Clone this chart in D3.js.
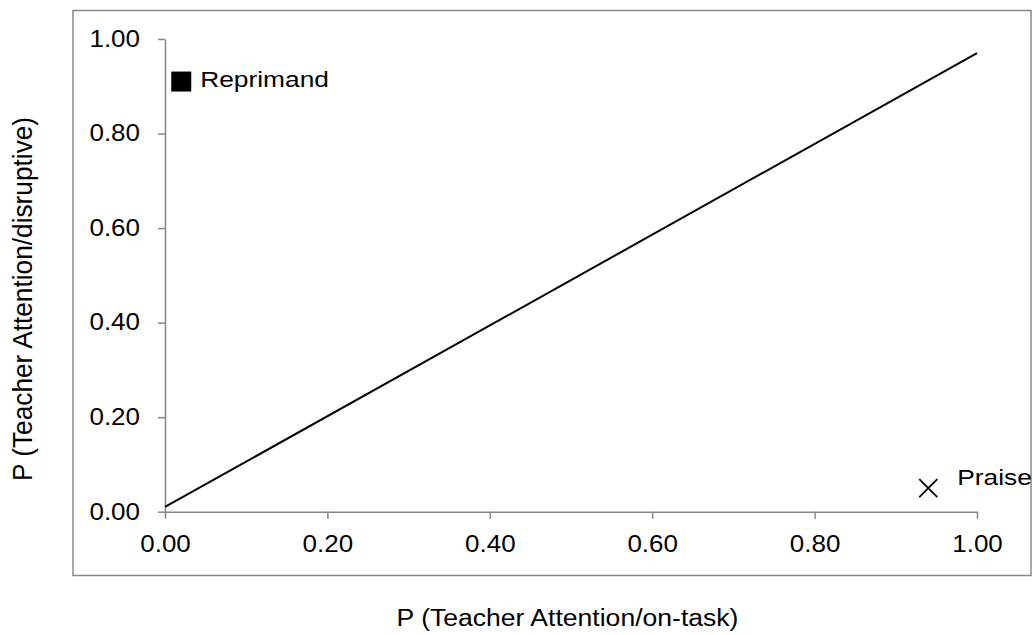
<!DOCTYPE html>
<html>
<head>
<meta charset="utf-8">
<script src="https://cdn.jsdelivr.net/npm/d3@7"></script>
<style>
  html, body { margin: 0; padding: 0; background: #fff; }
  svg text { font-family: Arial, "Liberation Sans", sans-serif; fill: #000; }
</style>
</head>
<body>
<svg id="chart" width="1033" height="635"></svg>
<script>
// Conditional probabilities of teacher attention
const behaviours = ["Reprimand", "Praise"];
const pOnTask = [0.02, 0.94];       // P(attention | on-task)
const pDisruptive = [0.91, 0.05];   // P(attention | disruptive)
const markerShapes = ["square", "cross"];

// Reference line (indifference) endpoints
const refX = [0, 1];
const refY = [0.01, 0.97];

const tickValues = [0, 0.2, 0.4, 0.6, 0.8, 1.0];
const xTitle = "P (Teacher Attention/on-task)";
const yTitle = "P (Teacher Attention/disruptive)";

const svg = d3.select("#chart");
const axisGray = "#868686";
const stretch = 1.13;   // horizontal stretch of chart text

// Outer frame
svg.append("rect")
  .attr("x", 73).attr("y", 10.5)
  .attr("width", 958).attr("height", 565)
  .attr("fill", "#fff").attr("stroke", axisGray).attr("stroke-width", 1.5);

const x = d3.scaleLinear().domain([0, 1]).range([165, 977]);
const y = d3.scaleLinear().domain([0, 1]).range([511.7, 39]);

// Y axis
const yAxis = svg.append("g")
  .attr("transform", `translate(${x(0)},0)`)
  .call(d3.axisLeft(y).tickValues(tickValues).tickFormat(d3.format(".2f"))
        .tickSize(7).tickSizeOuter(0));
yAxis.select(".domain").attr("stroke", axisGray).attr("stroke-width", 1.5);
yAxis.selectAll(".tick line").attr("stroke", axisGray).attr("stroke-width", 1.5);
yAxis.selectAll(".tick text")
  .attr("x", -25 / stretch)
  .attr("transform", `scale(${stretch},1)`)
  .style("font-size", "23px");

// X axis
const xAxis = svg.append("g")
  .attr("transform", `translate(0,${y(0)})`)
  .call(d3.axisBottom(x).tickValues(tickValues).tickFormat(d3.format(".2f"))
        .tickSize(7).tickSizeOuter(0));
xAxis.select(".domain").attr("stroke", axisGray).attr("stroke-width", 1.5);
xAxis.selectAll(".tick line").attr("stroke", axisGray).attr("stroke-width", 1.5);
xAxis.selectAll(".tick text")
  .attr("y", 24).attr("dy", "0.71em")
  .attr("transform", `scale(${stretch},1)`)
  .style("font-size", "23px");

// Reference line
const line = d3.line().x(d => x(d[0])).y(d => y(d[1]));
svg.append("path")
  .datum(d3.zip(refX, refY))
  .attr("d", line)
  .attr("fill", "none").attr("stroke", "#000").attr("stroke-width", 2);

// Points
const pts = behaviours.map((b, i) => ({ name: b, px: pOnTask[i], py: pDisruptive[i], shape: markerShapes[i] }));
const labelOffset = { square: [19, 5.5], cross: [29, -3] };

pts.forEach(p => {
  const cx = x(p.px), cy = y(p.py);
  if (p.shape === "square") {
    svg.append("rect")
      .attr("x", cx - 10).attr("y", cy - 10)
      .attr("width", 20).attr("height", 20)
      .attr("fill", "#000");
  } else {
    svg.append("path")
      .attr("d", `M${cx - 9},${cy - 9}L${cx + 9},${cy + 9}M${cx - 9},${cy + 9}L${cx + 9},${cy - 9}`)
      .attr("stroke", "#000").attr("stroke-width", 1.8).attr("fill", "none");
  }
  const [dx, dy] = labelOffset[p.shape];
  svg.append("text")
    .attr("transform", `translate(${cx + dx},${cy + dy}) scale(1.17,1)`)
    .style("font-size", "22.5px")
    .text(p.name);
});

// Axis titles
svg.append("text")
  .attr("transform", `translate(567.5,626) scale(1.13,1)`)
  .attr("text-anchor", "middle")
  .style("font-size", "23.5px")
  .text(xTitle);

svg.append("text")
  .attr("transform", `translate(31.5,299) rotate(-90) scale(1.05,1.1)`)
  .attr("text-anchor", "middle")
  .style("font-size", "25px")
  .text(yTitle);
</script>
</body>
</html>
